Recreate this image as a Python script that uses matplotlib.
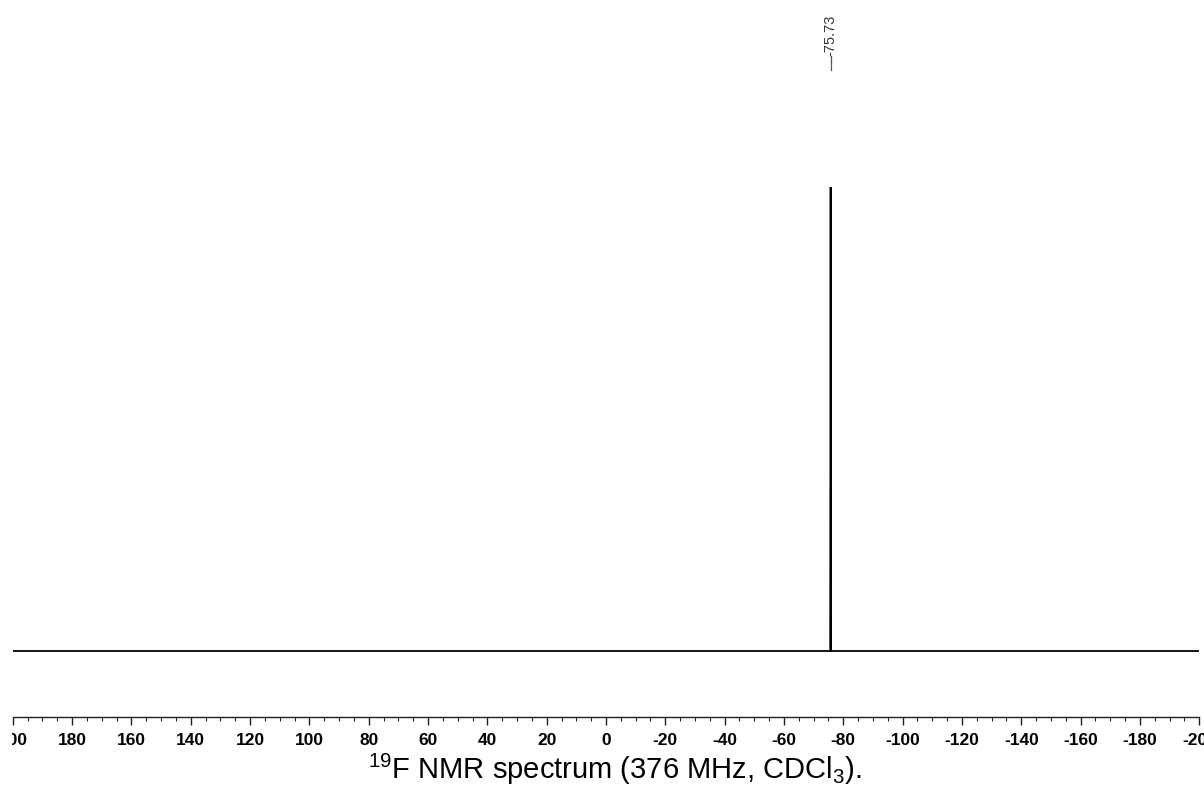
import matplotlib
matplotlib.use("Agg")
import matplotlib.pyplot as plt
from matplotlib.ticker import MultipleLocator
from matplotlib.patches import Rectangle

plt.rcParams['font.family'] = ['Liberation Sans', 'DejaVu Sans']
plt.rcParams['mathtext.fontset'] = 'custom'
plt.rcParams['mathtext.rm'] = 'Liberation Sans'

# Spectrum trace (ppm, relative intensity)
ppm = [200.0, -75.58, -75.73, -75.88, -200.0]
intensity = [0.0, 0.0, 1.0, 0.0, 0.0]

# Peak labels
peak_labels = ["-75.73"]
peak_positions = [-75.73]

# Axis ticks
major_ticks = list(range(200, -201, -20))

W, H = 1204, 785
fig = plt.figure(figsize=(W / 100, H / 100), dpi=100)

left_px, right_px = 12.7, 1199.3
bottom_px, top_px = 717, 0
ax = fig.add_axes([left_px / W, 1 - bottom_px / H, (right_px - left_px) / W, (bottom_px - top_px) / H])

ax.plot(ppm, intensity, color='black', linewidth=1.3, solid_joinstyle='miter')

# y scale: baseline at 651px, peak top at 187px
unit = 651 - 187
ax.set_ylim(-(717 - 651) / unit, 651 / unit)
ax.set_xlim(200, -200)

for s in ['top', 'left', 'right']:
    ax.spines[s].set_visible(False)
ax.spines['bottom'].set_linewidth(1.0)
ax.spines['bottom'].set_color('#222222')
ax.set_yticks([])
ax.set_xticks(major_ticks)
ax.set_xticklabels([f"{t}" for t in major_ticks], fontweight='bold')
ax.xaxis.set_minor_locator(MultipleLocator(5))
ax.tick_params(axis='x', which='major', direction='out', length=5.5, width=1.0, pad=6,
               labelsize=12.5, color='#222222')
ax.tick_params(axis='x', which='minor', direction='out', length=3, width=0.8, color='#222222')

# the leftmost label is cut at the plot's left edge in the reference
fig.patches.append(Rectangle((0, 1 - 755 / H), 12.3 / W, 28 / H, transform=fig.transFigure,
                             facecolor='white', edgecolor='none', zorder=10))

# Peak annotation: rotated label with short leader
for lab, pos in zip(peak_labels, peak_positions):
    ax.annotate(lab, xy=(pos, (651 - 70) / unit), xycoords='data',
                xytext=(pos, (651 - 56) / unit), textcoords='data',
                rotation=90, ha='center', va='bottom', fontsize=10.5, color='#333333',
                annotation_clip=False)
    ax.plot([pos, pos], [(651 - 56) / unit, (651 - 70) / unit], color='#555555', linewidth=0.9,
            clip_on=False)

fig.text(615 / W, 1 - 769 / H,
         r"$\mathregular{^{19}}$F NMR spectrum (376 MHz, CDCl$\mathregular{_3}$).",
         ha='center', va='center', fontsize=21)

fig.savefig("out.png", dpi=100)
